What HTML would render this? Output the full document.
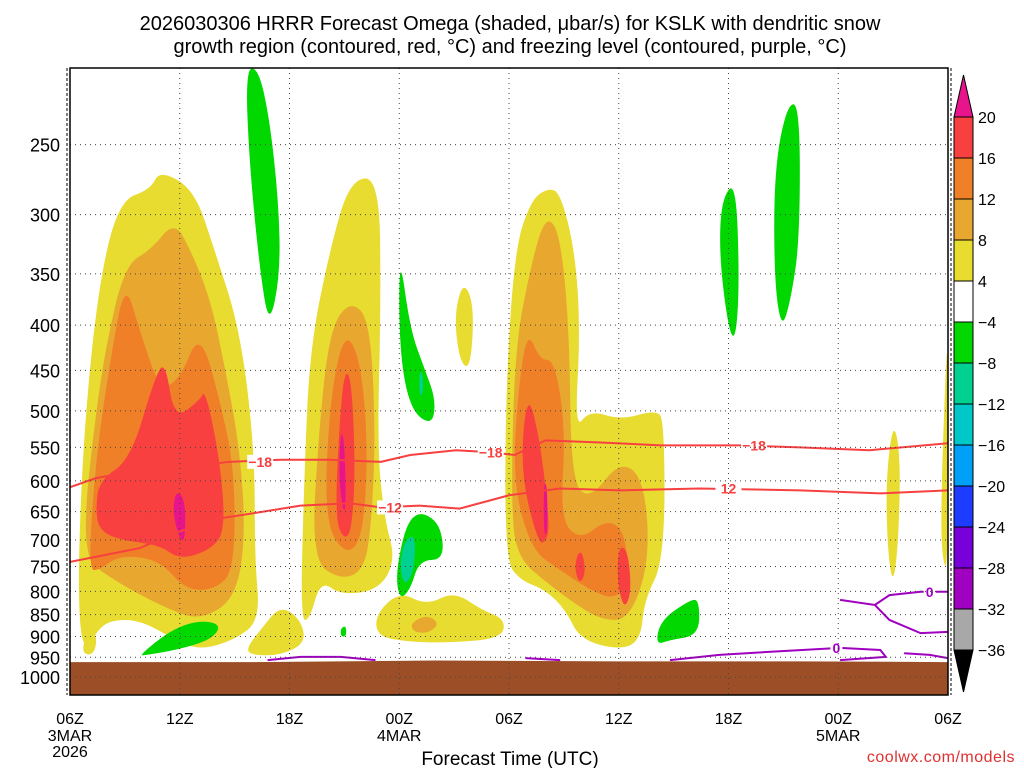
<!DOCTYPE html>
<html><head><meta charset="utf-8"><style>
body{margin:0;background:#fff;}
svg{display:block;font-family:"Liberation Sans","DejaVu Sans",sans-serif;}
</style></head><body>
<svg id="chart" width="1024" height="768" viewBox="0 0 1024 768" xmlns="http://www.w3.org/2000/svg">
<text x="510" y="30" text-anchor="middle" font-size="20">2026030306 HRRR Forecast Omega (shaded, μbar/s) for KSLK with dendritic snow</text>
<text x="510" y="53" text-anchor="middle" font-size="20">growth region (contoured, red, °C) and freezing level (contoured, purple, °C)</text>
<g id="plot"></g>
<text x="510" y="765" text-anchor="middle" font-size="19">Forecast Time (UTC)</text>
<text x="1015" y="762" text-anchor="end" font-size="16" fill="#e03030" letter-spacing="0.5">coolwx.com/models</text>
</svg>
<script>
const pressureTicks=[250,300,350,400,450,500,550,600,650,700,750,800,850,900,950,1000];
const hourTicks=[0,6,12,18,24,30,36,42,48];
const hourLabels=["06Z","12Z","18Z","00Z","06Z","12Z","18Z","00Z","06Z"];
const dateLabels={0:["3MAR","2026"],18:["4MAR"],42:["5MAR"]};
const cbLevels=["20","16","12","8","4","−4","−8","−12","−16","−20","−24","−28","−32","−36"];
const cbColors=["#f84040","#f08028","#e8a830","#e8dc30","#ffffff","#00d800","#00d090","#00c8c8","#00a0f8","#1e3cff","#7800d8","#a000c0","#a8a8a8"];
const C={y:"#e8dc30",g:"#e8a830",o:"#f08028",r:"#f84040",m:"#e8148c",gr:"#00d800",t:"#00d090"};
const yellowBlobs=[
[[0.55,908],[0.45,737],[0.8,512],[1.6,356],[2.7,289],[4.4,281],[4.9,267],[6.8,281],[7.9,329],[9.3,405],[10.1,554],[10.1,737],[10.4,862],[9.0,908],[7.1,932],[5.8,908],[3.8,862],[2.2,862],[1.4,890],[1.1,930]],
[[12.6,862],[12.8,599],[13.1,427],[14.2,329],[15.3,274],[16.9,272],[17.0,375],[16.8,554],[17.2,664],[17.8,737],[16.9,797],[14.8,808],[13.7,777],[13.1,862]],
[[23.8,737],[23.8,486],[24.3,329],[25.2,289],[26.1,280],[26.8,283],[27.6,329],[27.9,405],[27.6,526],[28.4,499],[30.1,512],[32.0,499],[32.5,512],[32.5,737],[31.4,818],[31.2,908],[30.1,932],[27.9,908],[27.1,840],[26.0,797],[24.6,777]],
[[21.0,390],[21.5,356],[22.1,380],[21.9,449],[21.3,440]],
[[44.6,600],[45.0,512],[45.4,560],[45.3,700],[45.0,790],[44.7,720]],
[[47.6,650],[47.9,430],[48,430],[48,757],[47.7,740]],
[[16.7,850],[18.0,800],[19.5,830],[21.0,800],[22.5,840],[23.8,860],[23.6,905],[20.5,915],[18.5,912],[16.8,900]],
[[9.6,930],[10.5,880],[11.5,830],[12.6,860],[12.9,915],[11.5,945],[10.0,945]],
[[0.6,940],[1.0,880],[1.5,900],[1.3,945]]
];
const goldenBlobs=[
[[0.8,664],[1.2,546],[1.9,427],[3.0,342],[4.4,329],[5.7,305],[6.6,329],[7.7,375],[8.5,450],[9.3,554],[9.6,700],[9.0,818],[7.1,862],[5.5,840],[3.3,797],[1.6,757],[1.0,737]],
[[13.2,737],[13.6,526],[14.2,405],[15.3,375],[16.4,394],[16.7,526],[16.5,664],[16.1,757],[14.8,777]],
[[24.1,664],[24.3,427],[25.2,342],[26.0,300],[26.8,315],[27.3,405],[27.4,599],[28.4,631],[30.1,568],[31.4,599],[31.7,737],[30.6,862],[29.0,862],[27.3,818],[25.9,777],[24.6,737]],
[[18.6,870],[19.5,850],[20.2,870],[19.6,892],[18.8,890]]
];
const orangeBlobs=[
[[1.0,757],[1.4,568],[2.2,438],[3.0,356],[3.8,405],[4.9,473],[6.0,461],[7.1,405],[8.2,486],[9.0,583],[9.0,757],[7.9,797],[6.3,797],[4.9,737],[2.7,728],[1.6,757]],
[[13.9,664],[14.2,486],[15.0,405],[15.9,438],[16.3,554],[16.0,700],[15.0,728]],
[[24.2,599],[24.5,473],[25.0,405],[25.7,438],[26.5,438],[27.1,526],[26.8,664],[27.9,700],[29.3,664],[30.3,682],[30.6,777],[29.8,818],[28.4,797],[26.8,757],[25.2,718]]
];
const redBlobs=[
[[1.4,647],[1.6,599],[3.3,568],[4.6,461],[5.2,438],[5.7,512],[7.1,486],[7.4,473],[8.2,568],[8.5,682],[7.7,718],[6.0,737],[4.9,709],[2.7,700],[1.6,682]],
[[14.5,664],[14.7,526],[15.0,449],[15.4,461],[15.6,583],[15.4,682],[15.0,700]],
[[24.6,583],[25.0,473],[25.7,540],[26.2,664],[26.1,700],[25.6,709]],
[[27.7,728],[28.0,720],[28.2,760],[27.9,785],[27.6,760]],
[[30.0,709],[30.5,720],[30.7,800],[30.3,840],[29.9,780]]
];
const magentaBlobs=[
[[5.8,615],[6.3,630],[6.3,700],[6.0,700],[5.6,650]],
[[14.8,526],[15.0,540],[15.1,647],[14.9,647],[14.7,590]],
[[25.9,600],[26.1,610],[26.1,690],[25.9,690]]
];
const greenBlobs=[
[[9.6,205],[10.3,205],[10.9,233],[11.4,289],[11.5,350],[10.9,402],[10.4,350],[9.8,262]],
[[18.0,329],[18.6,405],[19.4,449],[20.0,486],[19.8,520],[18.6,499],[18.0,427]],
[[18.6,647],[20.2,664],[20.5,737],[19.1,737],[18.6,797],[18.0,818],[17.8,757]],
[[3.8,945],[5.5,885],[7.1,862],[8.3,873],[7.7,908],[5.8,932],[4.1,945]],
[[35.6,289],[36.4,274],[36.6,356],[36.4,416],[36.0,405],[35.5,335]],
[[38.5,267],[39.2,225],[39.9,225],[39.9,320],[39.4,375],[38.9,405],[38.5,356]],
[[32.3,862],[33.9,818],[34.4,818],[34.4,897],[32.8,908],[32.0,920]],
[[14.8,880],[15.1,875],[15.1,900],[14.8,900]]
];
const tealBlobs=[
[[18.3,700],[18.9,690],[18.8,760],[18.3,790],[18.0,750]],
[[19.1,450],[19.3,455],[19.3,480],[19.1,480]]
];
const dgzM18=[[0,610],[1.4,596],[3.3,586],[6.0,580],[8.7,571],[11.5,568],[14.2,568],[17.0,571],[18.6,561],[21.1,554],[23.0,557],[24.3,561],[26.0,540],[29.0,543],[32.3,547],[36.6,547],[39.9,550],[43.7,554],[48,544]];
const dgzM12=[[0,741],[3.8,715],[5.5,691],[7.7,664],[10.4,651],[12.6,640],[15.3,636],[17.0,643],[19.1,640],[21.3,645],[24.0,623],[26.8,612],[30.1,615],[34.4,612],[39.9,615],[44.3,620],[48,615]];
const freezing=[
[[10.8,957],[12.6,949],[14.8,949],[16.7,957]],
[[24.9,952],[26.8,957]],
[[32.8,957],[35.5,944],[38.8,935],[42.1,927],[44.3,932],[44.6,949],[42.1,957]],
[[45.6,940],[47,944],[48,952]],
[[42.1,818],[44.0,829],[44.8,808],[46.5,801],[48,801]],
[[44.0,829],[44.8,862],[46.5,892],[48,889]]
];
const contourLabels=[["−18",10.4,571,"#f84040"],["−18",23.0,557,"#f84040"],["−18",37.4,547,"#f84040"],["−12",17.5,643,"#f84040"],["12",36.0,612,"#f84040"],["0",47.0,801,"#a000c0"],["0",41.9,927,"#a000c0"]];
const groundP=[[0,962],[10,962],[20,958],[30,960],[40,960],[48,962]];

const X0=70,X1=948,Y0=68,Y1=695;
const xS=h=>X0+h*(X1-X0)/48;
const yS=p=>677-384*Math.log(1000/p);
const NS="http://www.w3.org/2000/svg";
const plot=document.getElementById('plot');
function mk(t,a,parent){const e=document.createElementNS(NS,t);for(const k in a)e.setAttribute(k,a[k]);(parent||plot).appendChild(e);return e;}
function smooth(pts,closed){
 const P=pts.map(d=>[xS(d[0]),yS(d[1])]);
 if(!closed){let s="M"+P[0][0]+","+P[0][1];for(let i=1;i<P.length;i++)s+="L"+P[i][0]+","+P[i][1];return s;}
 const n=P.length;const mid=i=>[(P[i%n][0]+P[(i+1)%n][0])/2,(P[i%n][1]+P[(i+1)%n][1])/2];
 let m=mid(0);let s="M"+m[0]+","+m[1];
 for(let i=1;i<=n;i++){const c=P[i%n],e=mid(i);s+="Q"+c[0]+","+c[1]+" "+e[0]+","+e[1];}
 return s+"Z";
}
mk('clipPath',{id:'pc'}).appendChild(document.createElementNS(NS,'rect'));
document.querySelector('#pc rect').setAttribute('x',X0);document.querySelector('#pc rect').setAttribute('y',Y0);
document.querySelector('#pc rect').setAttribute('width',X1-X0);document.querySelector('#pc rect').setAttribute('height',Y1-Y0);
const g=mk('g',{'clip-path':'url(#pc)'});


[[yellowBlobs,C.y],[goldenBlobs,C.g],[orangeBlobs,C.o],[redBlobs,C.r],[magentaBlobs,C.m],[greenBlobs,C.gr],[tealBlobs,C.t]].forEach(([arr,col])=>{
 arr.forEach(b=>{const e=mk('path',{d:smooth(b,true),fill:col},g);
 
 });
});
pressureTicks.forEach(p=>{const e=mk('line',{x1:X0,x2:X1,y1:yS(p),y2:yS(p),stroke:'#444','stroke-width':1,'stroke-dasharray':'1,4'});

});
hourTicks.forEach(h=>{const e=mk('line',{x1:xS(h),x2:xS(h),y1:Y0,y2:Y1,stroke:'#444','stroke-width':1,'stroke-dasharray':'1,4'});

});
const gp=groundP.map(d=>xS(d[0])+","+yS(d[1])).join(" L");
const gr=mk('path',{d:"M"+gp+" L"+X1+","+Y1+" L"+X0+","+Y1+"Z",fill:'#9c4f26'},g);


[[dgzM18,'#f84040'],[dgzM12,'#f84040']].forEach(([l,c])=>{const e=mk('path',{d:smooth(l,false),fill:'none',stroke:c,'stroke-width':2},g);

});
freezing.forEach(l=>{const e=mk('path',{d:smooth(l,false),fill:'none',stroke:'#a000c0','stroke-width':2},g);

});
contourLabels.forEach(([t,h,p,c])=>{const w=t.length>1?26:12;
mk('rect',{x:xS(h)-w/2,y:yS(p)-7,width:w,height:14,fill:'#fff'},g);
const e=mk('text',{x:xS(h),y:yS(p)+5,'text-anchor':'middle','font-size':14,'font-weight':'bold',fill:c},g);e.textContent=t;

});
const fr=mk('rect',{x:X0,y:Y0,width:X1-X0,height:Y1-Y0,fill:'none',stroke:'#000','stroke-width':1.5});


mk('line',{x1:X0-3,x2:X0-3,y1:Y0,y2:Y1,stroke:'#000','stroke-dasharray':'3,2'});
mk('line',{x1:X1+3,x2:X1+3,y1:Y0,y2:Y1,stroke:'#000','stroke-dasharray':'3,2'});
pressureTicks.forEach(p=>{const e=mk('text',{x:60,y:yS(p)+7,'text-anchor':'end','font-size':18});e.textContent=p;

});
hourTicks.forEach((h,i)=>{const e=mk('text',{x:xS(h),y:724,'text-anchor':'middle','font-size':16});e.textContent=hourLabels[i];


(dateLabels[h]||[]).forEach((d,j)=>{const t=mk('text',{x:xS(h),y:741+j*16,'text-anchor':'middle','font-size':16});t.textContent=d;

});});
const CBX=954,CBW=19,CBT=117,BH=41;
const tri=mk('path',{d:`M${CBX},${CBT} L${CBX+CBW/2},75 L${CBX+CBW},${CBT}Z`,fill:'#e8148c',stroke:'#000'});


cbColors.forEach((c,i)=>{const e=mk('rect',{x:CBX,y:CBT+i*BH,width:CBW,height:BH,fill:c,stroke:'#000','stroke-width':1});

});
const yb=CBT+cbColors.length*BH;
const tri2=mk('path',{d:`M${CBX},${yb} L${CBX+CBW/2},${yb+42} L${CBX+CBW},${yb}Z`,fill:'#000',stroke:'#000'});


cbLevels.forEach((l,i)=>{const e=mk('text',{x:978,y:CBT+i*BH+6,'font-size':16});e.textContent=l;

});
</script>
</body></html>
